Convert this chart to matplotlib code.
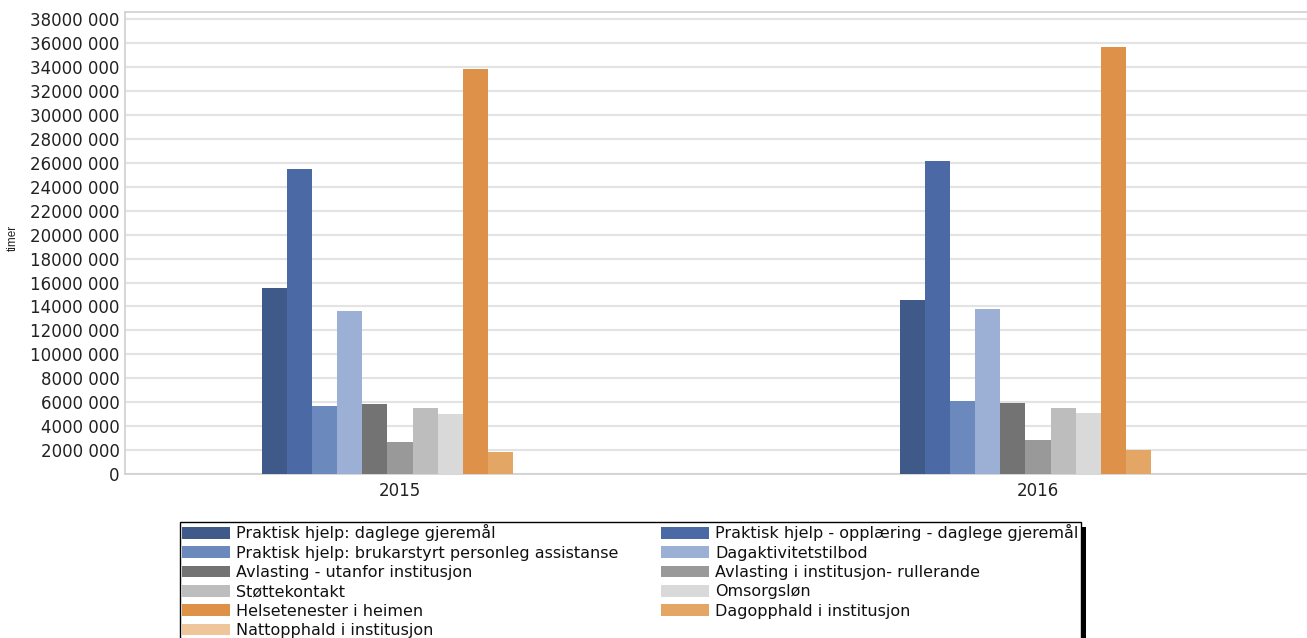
import matplotlib
matplotlib.use("Agg")
import matplotlib.pyplot as plt
import matplotlib.patches as mpatches
from matplotlib.ticker import FuncFormatter, MultipleLocator
import numpy as np

years = ["2015", "2016"]
series = [
    "Praktisk hjelp: daglege gjeremål",
    "Praktisk hjelp - opplæring - daglege gjeremål",
    "Praktisk hjelp: brukarstyrt personleg assistanse",
    "Dagaktivitetstilbod",
    "Avlasting - utanfor institusjon",
    "Avlasting i institusjon- rullerande",
    "Støttekontakt",
    "Omsorgsløn",
    "Helsetenester i heimen",
    "Dagopphald i institusjon",
    "Nattopphald i institusjon",
]
values_2015 = [15550000, 25500000, 5670000, 13600000, 5830000, 2640000, 5530000, 5000000, 33850000, 1830000, 0]
values_2016 = [14570000, 26170000, 6140000, 13800000, 5940000, 2860000, 5530000, 5080000, 35650000, 2000000, 0]
colors = ["#3f5a88", "#4b6aa5", "#6c89be", "#9cb0d6", "#737373", "#999999",
          "#bdbdbd", "#d9d9d9", "#de9249", "#e4a665", "#efc59c"]

W, H = 1307, 638
fig = plt.figure(figsize=(W / 100, H / 100), dpi=100)
ax = fig.add_axes([125 / W, 1 - 474 / H, 1 - 125 / W, (474 - 12) / H])

x = np.arange(len(years))
n = len(series)
unit = 638.0
bw = 25.1 / unit
handles = []
for i, name in enumerate(series):
    vals = [values_2015[i], values_2016[i]]
    b = ax.bar(x + (i - (n - 1) / 2) * bw, vals, width=bw, color=colors[i],
               label=name, zorder=3, linewidth=0)
    handles.append(b)

ax.set_xlim(-(400 - 125) / unit, (W - 400) / unit)
ax.set_ylim(0, 38610000)
ax.yaxis.set_major_locator(MultipleLocator(2000000))

def fmt(v, pos):
    v = int(round(v))
    if v == 0:
        return "0"
    return f"{v // 1000} {v % 1000:03d}"

ax.yaxis.set_major_formatter(FuncFormatter(fmt))
ax.set_xticks(x)
ax.set_xticklabels(years)
ax.tick_params(axis="x", length=0, pad=6, labelsize=12, labelcolor="#222222")
ax.tick_params(axis="y", length=0, pad=4, labelsize=12, labelcolor="#222222")
for lab in ax.get_yticklabels() + ax.get_xticklabels():
    lab.set_family("DejaVu Sans")
ax.grid(axis="y", color="#e3e3e3", linewidth=1.5, zorder=0)
for s in ["left", "bottom", "top"]:
    ax.spines[s].set_color("#d0d0d0")
    ax.spines[s].set_linewidth(1.2)
ax.spines["right"].set_visible(False)

fig.text(13 / W, 1 - 238 / H, "timer", rotation=90, ha="center", va="center",
         fontsize=8.5, family=["Liberation Sans"], color="#222222")

order = [0, 2, 4, 6, 8, 10, 1, 3, 5, 7, 9]
leg = fig.legend([handles[i] for i in order], [series[i] for i in order],
                 loc="upper left", bbox_to_anchor=(180 / W, 1 - 522 / H),
                 ncol=2, frameon=True, fancybox=False, shadow=False, framealpha=1.0,
                 prop={"family": "DejaVu Sans", "size": 11.5},
                 handlelength=3.0, handleheight=0.75, handletextpad=0.35,
                 labelspacing=0.27, columnspacing=2.7, borderpad=0.15,
                 borderaxespad=0)
leg.get_frame().set_edgecolor("black")
leg.get_frame().set_linewidth(1.0)
leg.set_zorder(10)
for t in leg.get_texts():
    t.set_color("#111111")

fig.canvas.draw()
bb = leg.get_window_extent()
shadow = mpatches.Rectangle((bb.x0 + 5, bb.y0 - 5), bb.width, bb.height,
                            transform=None, facecolor="black", edgecolor="none", zorder=9)
fig.add_artist(shadow)

fig.savefig("out.png", dpi=100)
